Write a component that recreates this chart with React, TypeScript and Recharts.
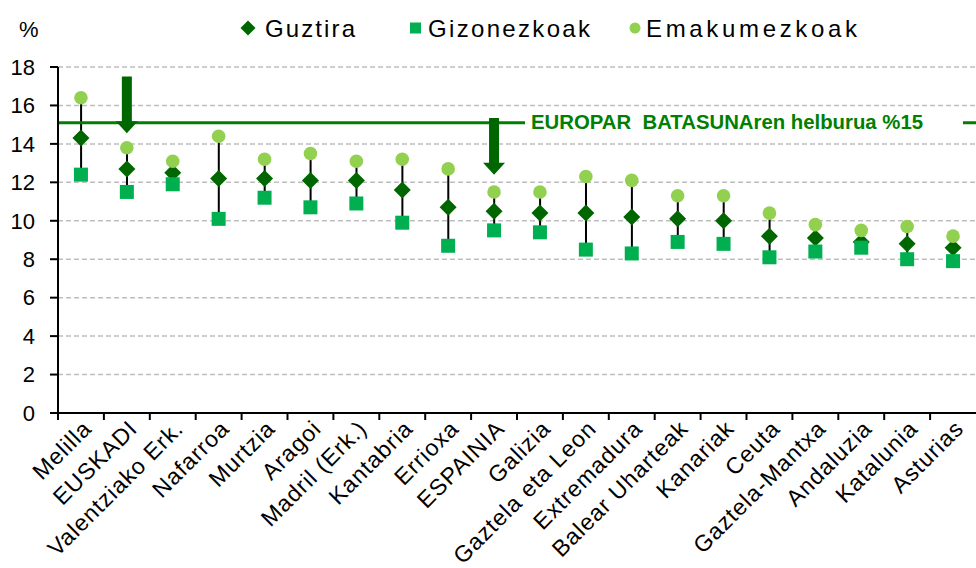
import React from 'react'
import {
  ComposedChart,
  Bar,
  Line,
  XAxis,
  YAxis,
  CartesianGrid,
  ReferenceLine,
  Legend,
} from 'recharts'

const categories: string[] = [
  'Melilla', 'EUSKADI', 'Valentziako Erk.', 'Nafarroa', 'Murtzia', 'Aragoi',
  'Madril (Erk.)', 'Kantabria', 'Errioxa', 'ESPAINIA', 'Galizia', 'Gaztela eta Leon',
  'Extremadura', 'Balear Uharteak', 'Kanariak', 'Ceuta', 'Gaztela-Mantxa',
  'Andaluzia', 'Katalunia', 'Asturias',
]
const guztira: number[] = [14.3, 12.7, 12.5, 12.2, 12.2, 12.1, 12.1, 11.6, 10.7, 10.5, 10.4, 10.4, 10.2, 10.1, 10.0, 9.2, 9.1, 8.9, 8.8, 8.6]
const gizonezkoak: number[] = [12.4, 11.5, 11.9, 10.1, 11.2, 10.7, 10.9, 9.9, 8.7, 9.5, 9.4, 8.5, 8.3, 8.9, 8.8, 8.1, 8.4, 8.6, 8.0, 7.9]
const emakumezkoak: number[] = [16.4, 13.8, 13.1, 14.4, 13.2, 13.5, 13.1, 13.2, 12.7, 11.5, 11.5, 12.3, 12.1, 11.3, 11.3, 10.4, 9.8, 9.5, 9.7, 9.2]
const yTicks: number[] = [0, 2, 4, 6, 8, 10, 12, 14, 16, 18]
const seriesNames: string[] = ['Guztira', 'Gizonezkoak', 'Emakumezkoak']
const targetValue = 15.1
const targetLabel = 'EUROPAR  BATASUNAren helburua %15'
// arrows: [category, top value, tip value]
const arrows: [string, number, number][] = [
  ['EUSKADI', 17.5, 14.55],
  ['ESPAINIA', 15.35, 12.4],
]

const W = 976
const H = 568
const Y_AXIS_W = 58
const X_AXIS_H = 155
const LEGEND_H = 48
const BAND = (W - Y_AXIS_W) / categories.length

const C_TOTAL = '#006600'
const C_MEN = '#00B050'
const C_WOMEN = '#92D050'
const C_TARGET = '#008000'
const FONT = '"Liberation Sans", Arial, sans-serif'

const data = categories.map((name, i) => ({
  name,
  guztira: guztira[i],
  gizonezkoak: gizonezkoak[i],
  emakumezkoak: emakumezkoak[i],
  range: [
    Math.min(guztira[i], gizonezkoak[i], emakumezkoak[i]),
    Math.max(guztira[i], gizonezkoak[i], emakumezkoak[i]),
  ],
}))

const diamond = (cx: number, cy: number, r: number) =>
  `M${cx},${cy - r}L${cx + r},${cy}L${cx},${cy + r}L${cx - r},${cy}Z`

const DiamondDot = (p: any) => (
  <path key={`d${p.index}`} d={diamond(p.cx, p.cy, 8.5)} fill={C_TOTAL} />
)
const SquareDot = (p: any) => (
  <rect key={`s${p.index}`} x={p.cx - 7} y={p.cy - 7} width={14} height={14} fill={C_MEN} />
)
const CircleDot = (p: any) => (
  <circle key={`c${p.index}`} cx={p.cx} cy={p.cy} r={6.8} fill={C_WOMEN} />
)

const Stem = (p: any) => (
  <rect x={p.x + p.width / 2 - 1} y={p.y} width={2} height={Math.max(p.height, 0)} fill="#000" />
)

const Arrow = (p: any) => {
  const x = p.x1
  const top = Math.min(p.y1, p.y2)
  const tip = Math.max(p.y1, p.y2)
  const head = 12
  const d = `M${x - 5},${top}L${x + 5},${top}L${x + 5},${tip - head}L${x + 11},${tip - head}L${x},${tip}L${x - 11},${tip - head}L${x - 5},${tip - head}Z`
  return <path d={d} fill={C_TOTAL} />
}

const TargetLabel = (p: any) => {
  const vb = p.viewBox
  return (
    <g>
      <rect x={vb.x + 467} y={vb.y - 4} width={vb.width - 480} height={8} fill="#fff" />
      <text
        x={vb.x + 473}
        y={vb.y + 6}
        fill={C_TARGET}
        fontSize={20}
        fontWeight="bold"
        fontFamily={FONT}
        textLength={392}
        lengthAdjust="spacingAndGlyphs"
        style={{ whiteSpace: 'pre' }}
      >
        {targetLabel}
      </text>
    </g>
  )
}

const XTick = (p: any) => (
  <g>
    <line x1={p.x - BAND / 2} y1={p.y} x2={p.x - BAND / 2} y2={p.y + 7} stroke="#000" strokeWidth={2} />
    <text
      transform={`translate(${p.x + 12},${p.y + 17}) rotate(-45)`}
      textAnchor="end"
      fontSize={23}
      letterSpacing={1}
      fontFamily={FONT}
      fill="#000"
    >
      {p.payload.value}
    </text>
  </g>
)

const legendItems = [
  { x: 265, len: 90 },
  { x: 428, len: 162 },
  { x: 646, len: 211 },
]

const LegendBox = () => (
  <svg width={W} height={LEGEND_H} style={{ display: 'block' }}>
    <path d={diamond(248, 28, 7.5)} fill={C_TOTAL} />
    <rect x={410} y={22.5} width={11} height={11} fill={C_MEN} />
    <circle cx={635} cy={28} r={5.5} fill={C_WOMEN} />
    {seriesNames.map((s, i) => (
      <text
        key={s}
        x={legendItems[i].x}
        y={37}
        fontSize={24}
        textLength={legendItems[i].len}
        lengthAdjust="spacing"
        fontFamily={FONT}
        fill="#000"
      >
        {s}
      </text>
    ))}
  </svg>
)

const PercentLabel = (p: any) => (
  <text x={p.viewBox.x + 19} y={p.viewBox.y - 30} fontSize={22} fontFamily={FONT} fill="#000">%</text>
)

export default function App() {
  return (
    <div style={{ position: 'absolute', left: 0, top: 0, width: W, height: H, background: '#fff' }}>
      <ComposedChart
        width={W}
        height={H}
        data={data}
        margin={{ top: 67 - LEGEND_H, right: 0, bottom: 0, left: 0 }}
        style={{ fontFamily: FONT }}
      >
        <Legend
          verticalAlign="top"
          align="left"
          wrapperStyle={{ top: 0, left: 0, width: W, height: LEGEND_H }}
          content={<LegendBox />}
        />
        <CartesianGrid vertical={false} stroke="#BFBFBF" strokeDasharray="5 3" strokeWidth={1.5} />
        <XAxis
          dataKey="name"
          interval={0}
          height={X_AXIS_H}
          tickLine={false}
          tickSize={0}
          tickMargin={0}
          axisLine={{ stroke: '#000', strokeWidth: 2 }}
          tick={<XTick />}
        />
        <YAxis
          width={Y_AXIS_W}
          domain={[0, 18]}
          ticks={yTicks}
          interval={0}
          tickSize={8}
          tickMargin={15}
          axisLine={{ stroke: '#000', strokeWidth: 2 }}
          tickLine={{ stroke: '#000', strokeWidth: 2 }}
          tick={{ fill: '#000', fontSize: 22 }}
          label={<PercentLabel />}
        />
        <ReferenceLine y={targetValue} stroke={C_TARGET} strokeWidth={3} label={<TargetLabel />} />
        {arrows.map(([cat, top, tip]) => (
          <ReferenceLine
            key={cat}
            segment={[{ x: cat, y: top }, { x: cat, y: tip }]}
            shape={<Arrow />}
          />
        ))}
        <Bar dataKey="range" shape={<Stem />} legendType="none" isAnimationActive={false} />
        <Line dataKey="guztira" name={seriesNames[0]} stroke="none" dot={DiamondDot} activeDot={false} isAnimationActive={false} />
        <Line dataKey="emakumezkoak" name={seriesNames[2]} stroke="none" dot={CircleDot} activeDot={false} isAnimationActive={false} />
        <Line dataKey="gizonezkoak" name={seriesNames[1]} stroke="none" dot={SquareDot} activeDot={false} isAnimationActive={false} />
      </ComposedChart>
    </div>
  )
}
